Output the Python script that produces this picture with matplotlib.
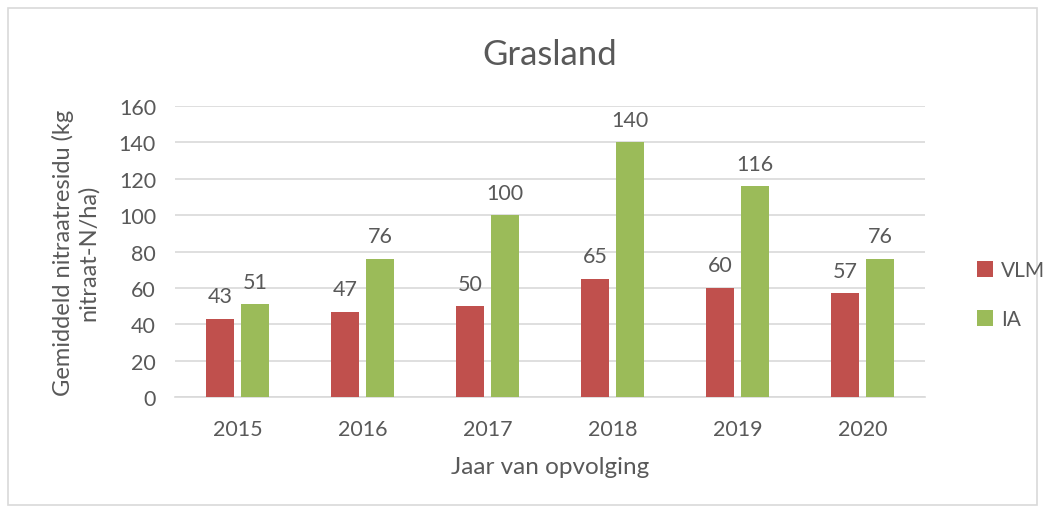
import numpy as np
import matplotlib.pyplot as plt
from matplotlib.patches import Rectangle

plt.rcParams['font.family'] = ['Lato', 'DejaVu Sans']

jaren = ['2015', '2016', '2017', '2018', '2019', '2020']
vlm = [43, 47, 50, 65, 60, 57]
ia = [51, 76, 100, 140, 116, 76]

tekst = '#595959'
rood = '#C0504D'
groen = '#9BBB59'

fig = plt.figure(figsize=(10.44, 5.1), dpi=100)
ax = fig.add_axes([0.168, 0.2196, 0.718, 0.5706])

# kader rond de grafiek
fig.patches.append(Rectangle((8/1044, 4/510), 1029/1044, 497/510, transform=fig.transFigure,
                             fill=False, edgecolor='#D9D9D9', linewidth=1.2))

x = np.arange(len(jaren))
w = 0.224
b1 = ax.bar(x - 0.14, vlm, w, color=rood, label='VLM', zorder=3)
b2 = ax.bar(x + 0.14, ia, w, color=groen, label='IA', zorder=3)

for bars in (b1, b2):
    for r in bars:
        ax.annotate(str(int(r.get_height())), (r.get_x() + r.get_width()/2, r.get_height()),
                    xytext=(0, 9), textcoords='offset points', ha='center', va='bottom',
                    fontsize=15.5, color=tekst)

ax.set_xlim(-0.5, len(jaren) - 0.5)
ax.set_ylim(0, 160)
ax.set_yticks(range(0, 161, 20))
ax.set_xticks(x)
ax.set_xticklabels(jaren)
ax.grid(axis='y', color='#D9D9D9', linewidth=1.2, zorder=0)
for s in ['top', 'right', 'left']:
    ax.spines[s].set_visible(False)
ax.spines['bottom'].set_color('#D9D9D9')
ax.spines['bottom'].set_linewidth(1.2)
ax.tick_params(length=0, labelsize=15.5, colors=tekst)
ax.tick_params(axis='x', pad=16)
ax.tick_params(axis='y', pad=14)

ax.set_title('Grasland', fontsize=25, color=tekst, pad=30)
ax.set_xlabel('Jaar van opvolging', fontsize=17.5, color=tekst, labelpad=12)
ax.set_ylabel('Gemiddeld nitraatresidu (kg\nnitraat-N/ha)', fontsize=17, color=tekst, labelpad=14)

leg = fig.legend(handles=[b1, b2], loc='center left', bbox_to_anchor=(0.918, 0.42),
                 frameon=False, fontsize=15, handlelength=0.75, handleheight=0.75,
                 handletextpad=0.4, labelspacing=1.4)
for t in leg.get_texts():
    t.set_color(tekst)

fig.savefig('out.png', dpi=100)
